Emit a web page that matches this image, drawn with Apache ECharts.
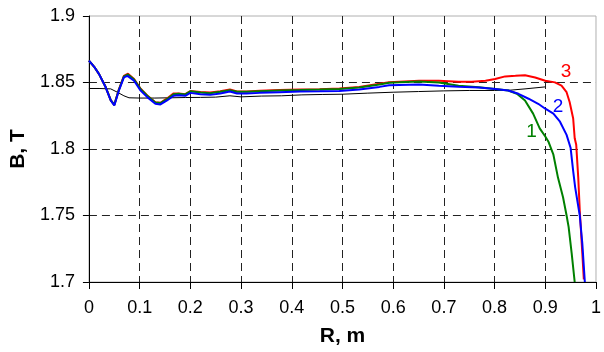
<!DOCTYPE html>
<html>
<head>
<meta charset="utf-8">
<script src="https://cdn.jsdelivr.net/npm/echarts@6/dist/echarts.min.js"></script>
<style>
html,body{margin:0;padding:0;background:#fff;}
#c{width:604px;height:352px;}
</style>
</head>
<body>
<div id="c"></div>
<script>
// X tick labels and Y tick labels
const xTicks = ['0','0.1','0.2','0.3','0.4','0.5','0.6','0.7','0.8','0.9','1'];
const yTicks = ['1.7','1.75','1.8','1.85','1.9'];

// Curve 1 (green)
const rGreen = [0,0.01,0.02,0.033,0.043,0.05,0.059,0.069,0.077,0.089,0.102,0.115,0.131,0.141,0.154,0.167,0.177,0.19,0.2,0.22,0.239,0.259,0.278,0.292,0.311,0.337,0.376,0.416,0.455,0.494,0.533,0.573,0.592,0.612,0.651,0.69,0.729,0.769,0.801,0.827,0.844,0.86,0.876,0.889,0.9,0.906,0.916,0.925,0.935,0.942,0.946,0.952,0.958];
const bGreen = [1.8665,1.862,1.8563,1.8466,1.8368,1.8332,1.8445,1.8546,1.856,1.8522,1.845,1.840,1.835,1.8345,1.8375,1.8412,1.8415,1.841,1.8434,1.8425,1.842,1.843,1.8442,1.843,1.843,1.8434,1.844,1.8443,1.8447,1.8452,1.8462,1.8485,1.8498,1.8501,1.8508,1.850,1.8476,1.8464,1.8452,1.844,1.8415,1.8365,1.8266,1.8155,1.8094,1.8057,1.7957,1.7785,1.7637,1.75,1.7414,1.7217,1.70];

// Curve 2 (blue)
const rBlue = [0,0.01,0.02,0.033,0.043,0.05,0.059,0.069,0.076,0.089,0.102,0.115,0.131,0.141,0.154,0.167,0.177,0.19,0.2,0.22,0.239,0.259,0.278,0.292,0.311,0.337,0.376,0.416,0.455,0.494,0.533,0.573,0.592,0.612,0.651,0.69,0.729,0.769,0.801,0.827,0.847,0.867,0.886,0.9,0.916,0.929,0.942,0.95,0.955,0.959,0.968,0.973,0.978];
const bBlue = [1.8665,1.862,1.8563,1.8464,1.8365,1.8328,1.8439,1.8538,1.855,1.8513,1.8439,1.839,1.834,1.8335,1.8365,1.840,1.8405,1.840,1.8422,1.8412,1.8407,1.8417,1.8432,1.8417,1.8417,1.8422,1.8427,1.8432,1.8434,1.8437,1.8447,1.8467,1.848,1.8482,1.8485,1.8475,1.8468,1.8462,1.8452,1.844,1.8415,1.8378,1.834,1.8303,1.8266,1.8205,1.8106,1.8007,1.7834,1.771,1.750,1.729,1.700];

// Curve 3 (red)
const rRed = [0,0.01,0.02,0.033,0.043,0.05,0.059,0.069,0.077,0.089,0.102,0.115,0.131,0.141,0.154,0.167,0.177,0.19,0.2,0.22,0.239,0.259,0.278,0.292,0.311,0.337,0.376,0.416,0.455,0.494,0.533,0.573,0.592,0.612,0.651,0.69,0.729,0.755,0.782,0.801,0.821,0.841,0.86,0.88,0.9,0.919,0.932,0.942,0.948,0.955,0.958,0.961,0.965,0.968,0.973,0.976];
const bRed = [1.8665,1.862,1.8563,1.8466,1.8368,1.8332,1.8447,1.855,1.8566,1.8526,1.8453,1.8402,1.8352,1.8348,1.838,1.8418,1.8418,1.8412,1.8436,1.8428,1.8424,1.8434,1.8447,1.8432,1.8433,1.8438,1.8444,1.8448,1.845,1.8455,1.8466,1.849,1.8502,1.8506,1.8513,1.8513,1.8506,1.8506,1.8513,1.8526,1.8546,1.855,1.8555,1.8538,1.8513,1.8501,1.8476,1.8427,1.8353,1.8229,1.8081,1.8032,1.7785,1.7538,1.7217,1.702];

// Reference curve (thin black)
const rBlack = [0,0.02,0.043,0.056,0.069,0.079,0.1,0.13,0.16,0.19,0.22,0.25,0.278,0.3,0.34,0.38,0.42,0.46,0.5,0.55,0.6,0.65,0.7,0.75,0.8,0.83,0.86,0.9];
const bBlack = [1.8455,1.8455,1.8452,1.8427,1.840,1.8385,1.8383,1.8383,1.8385,1.8387,1.8388,1.839,1.840,1.8392,1.8398,1.840,1.8407,1.841,1.8412,1.842,1.8427,1.8432,1.8437,1.844,1.844,1.8442,1.8452,1.8467];

// Curve labels: [text, r, B]
const curveLabels = [['1',0.873,1.8133],['2',0.925,1.8318],['3',0.941,1.8578]];

const zip = (a,b) => a.map((v,i)=>[v,b[i]]);
const FONT = '"Liberation Sans", Arial, sans-serif';

function lbl(idx,color){
  const l = curveLabels[idx];
  return {
    symbol:'circle', symbolSize:0, silent:true,
    data:[{coord:[l[1],l[2]], value:l[0]}],
    label:{show:true, position:'inside', formatter:l[0], color:color, fontSize:19, fontFamily:FONT}
  };
}

const chart = echarts.init(document.getElementById('c'), null, {renderer:'canvas'});
chart.setOption({
  animation:false,
  backgroundColor:'#fff',
  grid:{left:88, top:16, width:510, height:269, show:true, borderColor:'#b0b0b0', borderWidth:1, backgroundColor:'transparent'},
  xAxis:{
    type:'value', min:0, max:1, interval:0.1,
    name:'R, m', nameLocation:'middle', nameGap:44,
    nameTextStyle:{fontFamily:FONT, fontWeight:'bold', fontSize:21, color:'#000'},
    axisLine:{show:true, lineStyle:{color:'#000', width:1}},
    axisTick:{show:true, inside:false, length:7, lineStyle:{color:'#000'}},
    axisLabel:{margin:17, fontFamily:FONT, fontSize:18, color:'#000',
      formatter:(v)=>xTicks[Math.round(v*10)]},
    splitLine:{show:true, showMinLine:false, showMaxLine:false, lineStyle:{color:'#222', type:[8,5], width:1}}
  },
  yAxis:{
    type:'value', min:1.7, max:1.9, interval:0.05,
    name:'B, T', nameLocation:'middle', nameGap:54,
    nameTextStyle:{fontFamily:FONT, fontWeight:'bold', fontSize:21, color:'#000'},
    axisLine:{show:true, lineStyle:{color:'#000', width:1}},
    axisTick:{show:true, inside:false, length:6, lineStyle:{color:'#000'}},
    axisLabel:{margin:14, fontFamily:FONT, fontSize:18, color:'#000',
      formatter:(v)=>yTicks[Math.round((v-1.7)/0.05)]},
    splitLine:{show:true, showMinLine:false, showMaxLine:false, lineStyle:{color:'#222', type:[8,5], width:1}}
  },
  series:[
    {type:'line', data:zip(rBlack,bBlack), showSymbol:false, lineStyle:{color:'#000', width:1}, z:2},
    {type:'line', data:zip(rRed,bRed), showSymbol:false, lineStyle:{color:'#ff0000', width:2}, z:3, markPoint:lbl(2,'#ff0000')},
    {type:'line', data:zip(rGreen,bGreen), showSymbol:false, lineStyle:{color:'#008000', width:2}, z:4, markPoint:lbl(0,'#008000')},
    {type:'line', data:zip(rBlue,bBlue), showSymbol:false, lineStyle:{color:'#0000ff', width:2}, z:5, markPoint:lbl(1,'#0000ff')}
  ]
});
</script>
</body>
</html>
